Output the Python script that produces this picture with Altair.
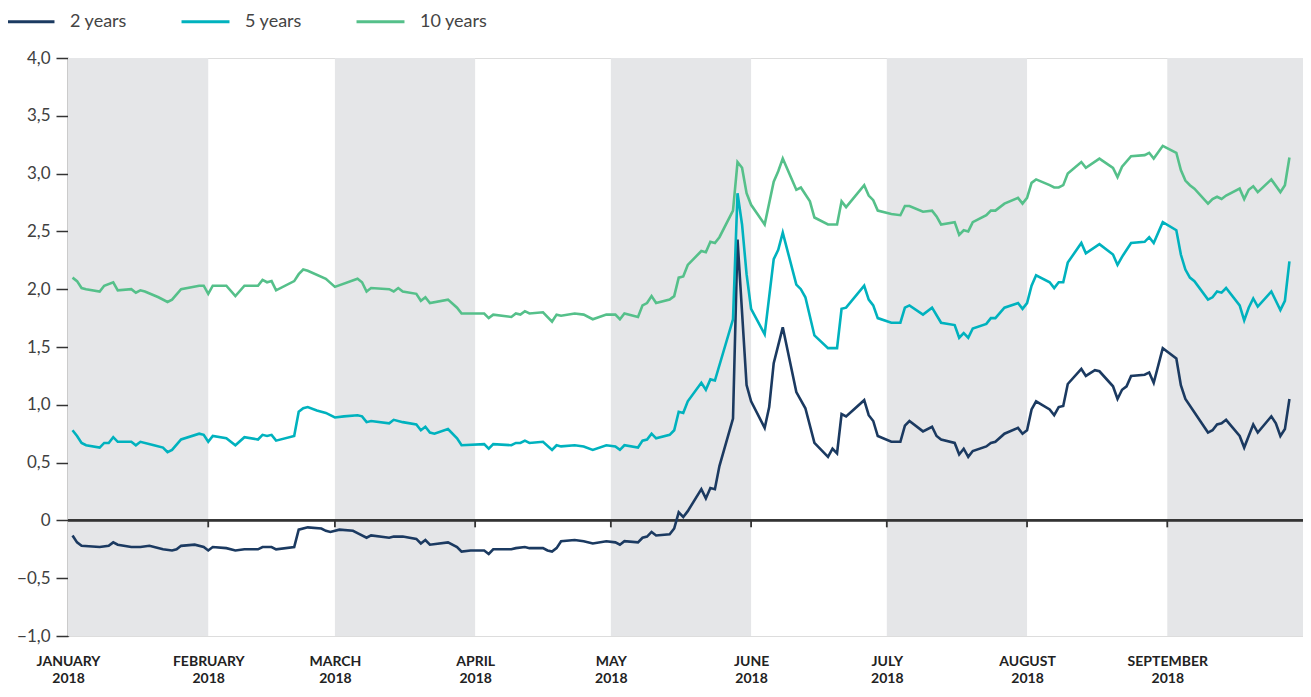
import altair as alt
import pandas as pd

BASE = pd.Timestamp("2018-01-01")

# ---- data: day offsets (days since 1 Jan 2018) and yields (%) ----
days_2y = [1, 2, 3, 7, 9, 10, 11, 14, 16, 18, 21, 23, 24, 25, 28, 30, 31, 32, 35, 37, 39, 42, 43, 45, 46,
           50, 51, 53, 56, 57, 58, 60, 63, 64, 66, 67, 71, 72, 74, 77, 78, 79, 80, 84, 86, 87, 89, 92, 93,
           94, 98, 99, 101, 102, 105, 106, 107, 108, 109, 112, 114, 116, 119, 121, 122, 123, 126, 127,
           128, 129, 130, 133, 134, 135, 136, 137, 140, 141, 142, 143, 144, 147, 148, 150, 151, 154, 155,
           156, 158, 161, 163, 165, 168, 169, 170, 171, 172, 176, 177, 178, 179, 182, 184, 185, 186, 189,
           191, 192, 193, 196, 197, 198, 199, 200, 203, 204, 205, 207, 210, 211, 212, 213, 214, 217, 218,
           219, 220, 221, 224, 225, 227, 228, 231, 232, 233, 234, 235, 238, 239, 240, 242, 245, 246, 247,
           252, 253, 254, 255, 256, 259, 260, 261, 262, 263, 266, 267, 268, 269, 270]
vals_2y = [-0.13, -0.19, -0.22, -0.23, -0.22, -0.19, -0.21, -0.23, -0.23, -0.22, -0.25, -0.26, -0.25,
           -0.22, -0.21, -0.23, -0.26, -0.23, -0.24, -0.26, -0.25, -0.25, -0.23, -0.23, -0.25, -0.23,
           -0.08, -0.06, -0.07, -0.09, -0.10, -0.08, -0.09, -0.11, -0.15, -0.13, -0.15, -0.14, -0.14,
           -0.16, -0.20, -0.17, -0.21, -0.19, -0.23, -0.27, -0.26, -0.26, -0.29, -0.25, -0.25, -0.24,
           -0.23, -0.24, -0.24, -0.26, -0.27, -0.24, -0.18, -0.17, -0.18, -0.20, -0.18, -0.19, -0.21,
           -0.18, -0.19, -0.15, -0.14, -0.10, -0.13, -0.12, -0.07, 0.07, 0.03, 0.08, 0.27, 0.19, 0.28,
           0.27, 0.47, 0.88, 2.43, 1.17, 1.03, 0.80, 0.98, 1.36, 1.67, 1.11, 0.97, 0.67, 0.55, 0.62,
           0.58, 0.92, 0.90, 1.04, 0.91, 0.86, 0.73, 0.68, 0.68, 0.82, 0.86, 0.77, 0.81, 0.73, 0.70,
           0.67, 0.57, 0.62, 0.55, 0.60, 0.64, 0.67, 0.68, 0.75, 0.80, 0.75, 0.78, 0.96, 1.03, 0.96,
           0.91, 0.98, 0.99, 1.18, 1.31, 1.25, 1.30, 1.29, 1.16, 1.05, 1.13, 1.16, 1.25, 1.26, 1.28,
           1.19, 1.49, 1.40, 1.17, 1.05, 0.76, 0.78, 0.83, 0.84, 0.87, 0.73, 0.63, 0.73, 0.83, 0.76,
           0.90, 0.84, 0.73, 0.79, 1.05]

days_5y = [1, 2, 3, 4, 7, 8, 9, 10, 11, 14, 15, 16, 19, 21, 22, 23, 25, 29, 30, 31, 32, 35, 37, 39, 42,
           43, 44, 45, 46, 50, 51, 52, 53, 55, 57, 59, 61, 64, 65, 66, 67, 71, 72, 74, 77, 78, 79, 80, 81,
           84, 86, 87, 92, 93, 94, 98, 99, 100, 101, 102, 105, 107, 108, 109, 112, 114, 116, 119, 121,
           122, 123, 126, 127, 128, 129, 130, 133, 134, 135, 136, 137, 140, 141, 142, 143, 147, 148, 149,
           150, 151, 154, 156, 157, 158, 161, 162, 163, 165, 168, 170, 171, 172, 176, 177, 178, 179, 182,
           184, 185, 186, 189, 191, 193, 196, 197, 198, 199, 200, 203, 204, 205, 207, 210, 211, 212, 213,
           214, 217, 218, 219, 220, 221, 224, 225, 228, 231, 232, 233, 235, 238, 239, 240, 242, 245, 246,
           247, 248, 249, 252, 253, 254, 255, 256, 259, 260, 261, 262, 263, 266, 268, 269, 270]
vals_5y = [0.78, 0.73, 0.67, 0.65, 0.63, 0.67, 0.67, 0.72, 0.68, 0.68, 0.65, 0.68, 0.65, 0.63, 0.59,
           0.61, 0.70, 0.75, 0.74, 0.68, 0.73, 0.71, 0.65, 0.72, 0.70, 0.74, 0.73, 0.74, 0.69, 0.73,
           0.94, 0.97, 0.98, 0.95, 0.93, 0.89, 0.90, 0.91, 0.90, 0.85, 0.86, 0.84, 0.87, 0.85, 0.83,
           0.78, 0.81, 0.76, 0.75, 0.79, 0.71, 0.65, 0.66, 0.62, 0.66, 0.65, 0.67, 0.67, 0.69, 0.67,
           0.68, 0.61, 0.65, 0.64, 0.65, 0.64, 0.61, 0.65, 0.64, 0.61, 0.65, 0.63, 0.69, 0.70, 0.75,
           0.71, 0.74, 0.78, 0.94, 0.93, 1.03, 1.19, 1.13, 1.22, 1.21, 1.74, 2.83, 2.56, 2.13, 1.83,
           1.61, 2.26, 2.34, 2.49, 2.04, 2.00, 1.93, 1.60, 1.49, 1.49, 1.83, 1.84, 2.03, 1.91, 1.86,
           1.75, 1.71, 1.71, 1.84, 1.86, 1.78, 1.84, 1.71, 1.69, 1.58, 1.62, 1.58, 1.66, 1.70, 1.75,
           1.75, 1.84, 1.88, 1.83, 1.88, 2.03, 2.12, 2.06, 2.01, 2.06, 2.06, 2.23, 2.40, 2.31, 2.39,
           2.30, 2.21, 2.28, 2.40, 2.41, 2.45, 2.40, 2.58, 2.51, 2.30, 2.17, 2.10, 2.07, 1.91, 1.93,
           1.98, 1.97, 2.01, 1.86, 1.73, 1.84, 1.92, 1.85, 1.98, 1.82, 1.90, 2.24]

days_10y = [1, 2, 3, 4, 7, 8, 10, 11, 14, 15, 16, 17, 20, 22, 23, 25, 29, 30, 31, 32, 35, 37, 39, 42, 43,
            44, 45, 46, 50, 51, 52, 53, 57, 59, 64, 65, 66, 67, 71, 72, 73, 74, 77, 78, 79, 80, 84, 86,
            87, 92, 93, 94, 98, 99, 100, 101, 102, 105, 107, 108, 109, 112, 114, 116, 119, 121, 122,
            123, 126, 127, 128, 129, 130, 133, 134, 135, 136, 137, 140, 141, 142, 143, 144, 147, 148,
            149, 150, 151, 154, 156, 157, 158, 161, 162, 164, 165, 168, 170, 171, 172, 176, 177, 178,
            179, 182, 184, 185, 186, 189, 191, 192, 193, 196, 197, 198, 199, 200, 203, 204, 205, 207,
            210, 211, 212, 213, 214, 217, 218, 219, 220, 221, 224, 225, 228, 231, 232, 233, 235, 238,
            239, 240, 242, 245, 246, 247, 248, 249, 252, 253, 254, 255, 256, 259, 260, 261, 262, 263,
            266, 268, 269, 270]
vals_10y = [2.10, 2.07, 2.01, 2.00, 1.98, 2.03, 2.06, 1.99, 2.00, 1.97, 1.99, 1.98, 1.93, 1.89, 1.91,
            2.00, 2.03, 2.03, 1.96, 2.03, 2.03, 1.94, 2.03, 2.03, 2.08, 2.06, 2.07, 1.99, 2.07, 2.13,
            2.17, 2.16, 2.09, 2.02, 2.09, 2.06, 1.98, 2.01, 2.00, 1.98, 2.01, 1.98, 1.96, 1.90, 1.93,
            1.88, 1.91, 1.84, 1.79, 1.79, 1.75, 1.78, 1.76, 1.79, 1.78, 1.81, 1.79, 1.80, 1.72, 1.78,
            1.77, 1.79, 1.78, 1.74, 1.78, 1.78, 1.74, 1.79, 1.76, 1.86, 1.88, 1.94, 1.88, 1.91, 1.94,
            2.10, 2.11, 2.21, 2.33, 2.32, 2.41, 2.40, 2.45, 2.68, 3.10, 3.05, 2.83, 2.73, 2.56, 2.93,
            3.02, 3.13, 2.86, 2.88, 2.76, 2.62, 2.56, 2.56, 2.76, 2.71, 2.90, 2.81, 2.77, 2.68, 2.65,
            2.64, 2.72, 2.72, 2.67, 2.68, 2.63, 2.56, 2.58, 2.47, 2.51, 2.50, 2.58, 2.64, 2.68, 2.68,
            2.74, 2.79, 2.74, 2.79, 2.92, 2.95, 2.90, 2.88, 2.88, 2.90, 3.00, 3.10, 3.05, 3.13, 3.05,
            2.97, 3.06, 3.15, 3.16, 3.18, 3.13, 3.24, 3.18, 3.03, 2.94, 2.90, 2.87, 2.74, 2.78, 2.80,
            2.78, 2.81, 2.87, 2.78, 2.86, 2.89, 2.84, 2.95, 2.84, 2.90, 3.14]

series_names = ["2 years", "5 years", "10 years"]
series_colors = ["#1b3a61", "#00b2be", "#55c08a"]

band_starts = ["2018-01-01", "2018-03-01", "2018-05-01", "2018-07-01", "2018-09-01"]
band_ends = ["2018-02-01", "2018-04-01", "2018-06-01", "2018-08-01", "2018-10-01"]
tick_months = ["2018-02-01", "2018-03-01", "2018-04-01", "2018-05-01", "2018-06-01",
               "2018-07-01", "2018-08-01", "2018-09-01"]
label_months = list(range(1, 10))
y_ticks = [-1.0, -0.5, 0.0, 0.5, 1.0, 1.5, 2.0, 2.5, 3.0, 3.5, 4.0]


def frame(days, vals, name):
    dates = (BASE + pd.to_timedelta(days, unit="D")).strftime("%Y-%m-%dT00:00:00")
    return pd.DataFrame({"date": list(dates), "value": vals, "series": name})


lines_df = pd.concat([
    frame(days_2y, vals_2y, series_names[0]),
    frame(days_5y, vals_5y, series_names[1]),
    frame(days_10y, vals_10y, series_names[2]),
], ignore_index=True)

bands_df = pd.DataFrame({"start": [s + "T00:00:00" for s in band_starts],
                         "end": [e + "T00:00:00" for e in band_ends]})
ticks_df = pd.DataFrame({"m": [t + "T00:00:00" for t in tick_months]})

FONT = "Lato"

x_scale = alt.Scale(domain=[alt.DateTime(year=2018, month=1, date=1),
                            alt.DateTime(year=2018, month=10, date=1)], nice=False)
y_scale = alt.Scale(domain=[-1, 4], nice=False, zero=False)

x_axis = alt.Axis(
    values=[alt.DateTime(year=2018, month=m, date=1) for m in label_months],
    labelExpr="[upper(timeFormat(datum.value, '%B')), timeFormat(datum.value, '%Y')]",
    domain=False, ticks=False, grid=False, title=None,
    labelFont=FONT, labelFontSize=14, labelFontWeight="bold", labelColor="#222222",
    labelAlign="center", labelBaseline="top",
    labelPadding=18, labelLineHeight=17, labelAngle=0, labelOverlap=False, labelFlush=False,
)
y_axis = alt.Axis(
    values=y_ticks,
    labelExpr="datum.value == 0 ? '0' : replace(format(datum.value, '.1f'), '.', ',')",
    domain=True, domainColor="#333333", domainWidth=1.5,
    ticks=True, tickSize=12, tickColor="#333333", tickWidth=1.5,
    grid=False, title=None,
    labelFont=FONT, labelFontSize=17, labelColor="#404040", labelPadding=6,
)

X = alt.X("date:T", scale=x_scale, axis=x_axis)
Y = alt.Y("value:Q", scale=y_scale, axis=y_axis)

bands = alt.Chart(bands_df).mark_rect(color="#e5e6e8").encode(
    x=alt.X("start:T", scale=x_scale, axis=x_axis),
    x2="end:T",
    y=alt.Y(datum=4, scale=y_scale, axis=y_axis),
    y2=alt.Y2(datum=-1),
)

zero_line = alt.Chart(bands_df).mark_rule(color="#333333", strokeWidth=1.8).encode(
    y=alt.Y(datum=0, scale=y_scale, axis=y_axis),
)

month_ticks = alt.Chart(ticks_df).mark_rule(color="#333333", strokeWidth=1.8).encode(
    x=alt.X("m:T", scale=x_scale, axis=x_axis),
    y=alt.Y(datum=0, scale=y_scale, axis=y_axis),
    y2=alt.Y2(datum=-0.06),
)

lines = alt.Chart(lines_df).mark_line(strokeWidth=2.6).encode(
    x=X,
    y=Y,
    color=alt.Color(
        "series:N",
        scale=alt.Scale(domain=series_names, range=series_colors),
        legend=alt.Legend(
            title=None, orient="none", direction="horizontal",
            legendX=-63, legendY=-62,
            symbolType="stroke", symbolSize=2300, symbolStrokeWidth=3,
            labelFont=FONT, labelFontSize=18, labelColor="#444444",
            labelOffset=14, columnPadding=48,
        ),
    ),
)

chart = alt.layer(bands, zero_line, month_ticks, lines).properties(
    width=1235,
    height=578,
    autosize=alt.AutoSizeParams(type="none"),
    padding={"left": 60, "top": 50, "right": 0, "bottom": 53},
).configure_view(stroke=None).configure(background="white")

chart.save("out.html", embed_options={"renderer": "svg", "actions": False})
